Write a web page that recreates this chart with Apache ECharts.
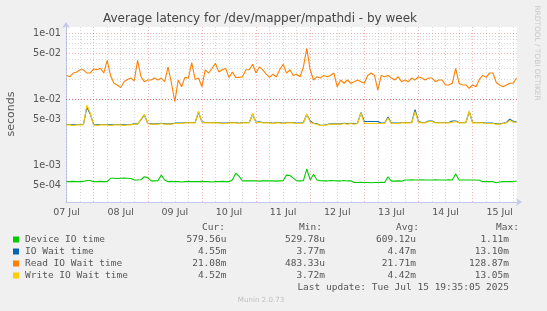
<!DOCTYPE html>
<html><head><meta charset="utf-8">
<script src="https://cdn.jsdelivr.net/npm/echarts@6/dist/echarts.min.js"></script>
<style>html,body{margin:0;padding:0;background:#f0f0f0}#c{width:547px;height:311px}</style>
</head><body><div id="c"></div>
<script>
// time of first sample: days since 07 Jul 00:00; samples every 1.5 h
const T0 = 0.5;
const STEP = 0.0625;
const X_MIN = 0.49, X_MAX = 8.82;
const Y_MIN = 2.78e-4, Y_MAX = 0.1246;

const xLabelPos = [0.5,1.5,2.5,3.5,4.5,5.5,6.5,7.5,8.5];
const xLabels = ['07 Jul','08 Jul','09 Jul','10 Jul','11 Jul','12 Jul','13 Jul','14 Jul','15 Jul'];
const yLabelVals = [5e-4,1e-3,5e-3,1e-2,5e-2,1e-1];
const yLabels = ['5e-04','1e-03','5e-03','1e-02','5e-02','1e-01'];

// Device IO time (microseconds)
const deviceIoUs = [565,565,570,565,565,570,590,590,565,565,570,565,565,
 635,635,630,635,640,635,630,600,600,605,670,650,580,580,585,710,600,
 565,570,565,565,560,565,570,565,565,565,570,565,565,560,565,565,570,565,565,
 600,760,680,
 580,580,585,580,580,575,580,585,580,580,575,580,585,
 710,700,640,580,580,585,880,600,730,600,
 585,580,580,590,585,580,580,590,580,585,
 550,550,555,550,550,545,550,550,555,550,
 670,575,575,580,575,
 600,600,605,600,600,605,600,600,600,605,600,600,600,605,600,
 740,600,600,600,600,600,600,595,
 565,565,565,565,545,560,565,565,565,565,580];
// IO Wait time (milliseconds)
const ioWaitMs = [4.15,4.15,4.1,4.15,4.15,4.15,7.6,6.0,4.15,4.1,
 4.15,4.15,4.15,4.1,4.15,4.15,4.15,4.1,4.15,4.15,
 4.25,4.25,4.9,5.8,4.35,4.25,4.25,4.25,4.35,4.25,
 4.25,4.25,4.35,4.35,4.35,4.45,4.45,4.45,4.45,
 6.4,4.55,
 4.45,4.45,4.45,4.45,4.45,4.35,4.35,4.45,4.45,4.45,4.35,4.45,4.45,4.45,
 6.0,4.45,
 4.55,4.45,4.45,4.45,4.35,4.45,4.45,4.35,4.45,4.45,4.45,4.35,4.35,4.45,
 5.9,4.7,4.35,4.25,4.05,4.05,4.15,4.25,4.25,
 4.25,4.25,4.35,4.25,4.35,4.25,4.35,
 6.3,4.6,
 4.6,4.6,4.6,4.6,4.35,4.35,
 5.4,4.35,
 4.35,4.35,4.45,4.45,4.45,4.45,
 7.0,4.6,4.45,4.45,4.7,4.7,4.45,
 4.45,4.45,4.45,4.45,4.7,
 4.7,4.45,4.45,4.45,6.5,4.45,
 4.45,4.45,4.45,4.35,4.35,4.35,4.25,4.25,4.35,4.45,
 5.0,4.6,4.55];
// Read IO Wait time (milliseconds)
const readWaitMs = [23,22,25,26,28,28,25,25,29,28,
 29.5,25,39,23,17.5,16.5,15,18.5,20,21,
 19,39,22,18.5,19.6,19.6,21,19.6,21,18.5,
 31,17.5,9.2,19.6,15.5,21.5,21,36,20,21,
 15.5,28,25,29.5,35,26,28,29.5,21.5,26,
 21.5,21.5,22,28,28,34,25,31,28,24,
 21.5,24,22,28,34,25,28,23,24,22,
 31,59,28,19.6,22,21,23,22,23,25,
 15.5,19.6,17.5,19.6,17.5,18.5,19.6,18.5,17.5,23,
 25,23,13.8,23,22,23,21,19.6,22,18.5,
 19.6,18.5,21,19.6,22,21,19.6,21,21,18.5,
 19.6,19.6,16.5,16.5,17.5,29.5,17.5,16.5,16.5,14.7,
 16.5,15.5,20,23,21.5,25,25,18,16.5,15.5,
 16.5,17.5,17.5,21];
// Write IO Wait time (milliseconds)
const writeWaitMs = [4.1,4.1,4.0,4.1,4.1,4.1,8.2,6.2,4.1,4.0,
 4.1,4.1,4.1,4.0,4.1,4.1,4.1,4.0,4.1,4.1,
 4.2,4.2,5.0,5.9,4.3,4.2,4.2,4.2,4.3,4.2,
 4.2,4.2,4.3,4.3,4.3,4.4,4.4,4.4,4.4,
 6.6,4.5,
 4.4,4.4,4.4,4.4,4.4,4.3,4.3,4.4,4.4,4.4,4.3,4.4,4.4,4.4,
 6.1,4.4,
 4.5,4.4,4.4,4.4,4.3,4.4,4.4,4.3,4.4,4.4,4.4,4.3,4.3,4.4,
 6.0,4.5,4.3,4.2,4.0,4.0,4.1,4.2,4.2,
 4.2,4.2,4.3,4.2,4.3,4.2,4.3,
 6.2,4.3,
 4.3,4.3,4.3,4.3,4.3,4.3,
 5.2,4.3,
 4.3,4.3,4.4,4.4,4.4,4.4,
 6.5,4.5,4.4,4.4,4.6,4.6,4.4,
 4.4,4.4,4.4,4.4,4.5,
 4.6,4.4,4.4,4.4,6.7,4.4,
 4.4,4.4,4.4,4.3,4.3,4.3,4.2,4.2,4.3,4.4,
 4.8,4.5,4.5];

const legendNames = ['Device IO time','IO Wait time','Read IO Wait time','Write IO Wait time'];
const legendColors = ['#00cc00','#0066b3','#ff8000','#ffcc00'];
const legendCur = ['579.56u','4.55m','21.08m','4.52m'];
const legendMin = ['529.78u','3.77m','483.33u','3.72m'];
const legendAvg = ['609.12u','4.47m','21.71m','4.42m'];
const legendMax = ['1.11m','13.10m','128.87m','13.05m'];

const toPairs = (arr, scale) => arr.map((v, i) => [T0 + i * STEP, v * scale]);

// grid lines
const gridMarks = [];
const minorStyle = {color: 'rgba(150,150,150,0.38)', type: [1, 2], width: 1};
const majorStyle = {color: 'rgba(235,90,90,0.45)', type: [1, 2], width: 1};
[1e-4, 1e-3, 1e-2, 1e-1].forEach(d => {
  [2,3,4,6,7,8,9].forEach(m => {
    const v = m * d;
    if (v > Y_MIN && v < Y_MAX) gridMarks.push({yAxis: v, lineStyle: minorStyle});
  });
});
yLabelVals.forEach(v => gridMarks.push({yAxis: v, lineStyle: majorStyle}));
for (let q = 2; q <= 35; q++) {
  const t = q * 0.25;
  gridMarks.push({xAxis: t, lineStyle: (q % 4 === 0) ? majorStyle : minorStyle});
}

const chart = echarts.init(document.getElementById('c'), null, {renderer: 'canvas'});
const txt = '#555';
const mono = '"DejaVu Sans Mono"';
const graphics = [
  {type: 'text', x: 260, y: 19, style: {text: 'Average latency for /dev/mapper/mpathdi - by week', font: '12px "DejaVu Sans"', fill: '#444', align: 'center', verticalAlign: 'middle'}},
  {type: 'text', x: 11, y: 114, rotation: Math.PI / 2, style: {text: 'seconds', font: '11px "DejaVu Sans"', fill: txt, align: 'center', verticalAlign: 'middle'}},
  {type: 'text', x: 537, y: 53, rotation: -Math.PI / 2, style: {text: 'RRDTOOL / TOBI OETIKER', font: '7.4px "DejaVu Sans"', fill: '#c8c8c8', align: 'center', verticalAlign: 'middle'}},
  {type: 'text', x: 261, y: 300, style: {text: 'Munin 2.0.73', font: '7.1px "DejaVu Sans"', fill: '#c0c0c0', align: 'center', verticalAlign: 'middle'}},
  {type: 'text', x: 509, y: 287.5, style: {text: 'Last update: Tue Jul 15 19:35:05 2025', font: '9.5px ' + mono, fill: txt, align: 'right', verticalAlign: 'middle'}}
];
const headers = [['Cur:', 225], ['Min:', 322], ['Avg:', 419], ['Max:', 519]];
headers.forEach(h => graphics.push({type: 'text', x: h[1], y: 227.7, style: {text: h[0], font: '9.5px ' + mono, fill: txt, align: 'right', verticalAlign: 'middle'}}));
const colsX = [226.5, 325, 416, 509];
legendNames.forEach((n, i) => {
  const y = 239.5 + i * 12;
  graphics.push({type: 'rect', shape: {x: 13, y: y - 3, width: 6, height: 6}, style: {fill: legendColors[i]}});
  graphics.push({type: 'text', x: 25, y: y, style: {text: n, font: '9.5px ' + mono, fill: txt, align: 'left', verticalAlign: 'middle'}});
  [legendCur, legendMin, legendAvg, legendMax].forEach((col, j) => {
    graphics.push({type: 'text', x: colsX[j], y: y, style: {text: col[i], font: '9.5px ' + mono, fill: txt, align: 'right', verticalAlign: 'middle'}});
  });
});

const axisLineStyle = {color: '#c4c8ec', width: 1};
chart.setOption({
  animation: false,
  backgroundColor: '#f0f0f0',
  grid: {left: 66, right: 30, top: 27, bottom: 109, show: true, backgroundColor: '#ffffff', borderWidth: 0},
  xAxis: {
    type: 'value', min: X_MIN, max: X_MAX,
    axisLine: {show: true, lineStyle: axisLineStyle, symbol: ['none', 'arrow'], symbolSize: [6, 6], symbolOffset: [0, 5]},
    axisTick: {show: false},
    splitLine: {show: false},
    axisLabel: {
      customValues: xLabelPos, margin: 6, color: txt, fontFamily: 'DejaVu Sans', fontSize: 9.5,
      formatter: v => { const i = xLabelPos.findIndex(p => Math.abs(p - v) < 1e-6); return i >= 0 ? xLabels[i] : ''; }
    }
  },
  yAxis: {
    type: 'log', logBase: 10, min: Y_MIN, max: Y_MAX,
    axisLine: {show: true, lineStyle: axisLineStyle, symbol: ['none', 'arrow'], symbolSize: [6, 6], symbolOffset: [0, 5]},
    axisTick: {show: false},
    splitLine: {show: false},
    minorSplitLine: {show: false},
    axisLabel: {
      customValues: yLabelVals, margin: 5, color: txt, fontFamily: 'DejaVu Sans', fontSize: 9.7,
      formatter: v => { const i = yLabelVals.findIndex(p => Math.abs(Math.log10(p) - Math.log10(v)) < 1e-4); return i >= 0 ? yLabels[i] : ''; }
    }
  },
  graphic: graphics,
  series: [
    {type: 'line', z: 1, data: [], silent: true, markLine: {silent: true, symbol: 'none', animation: false, label: {show: false}, data: gridMarks}},
    {name: legendNames[0], type: 'line', z: 2, showSymbol: false, symbol: 'none', data: toPairs(deviceIoUs, 1e-6), lineStyle: {color: legendColors[0], width: 1.1}},
    {name: legendNames[1], type: 'line', z: 2, showSymbol: false, symbol: 'none', data: toPairs(ioWaitMs, 1e-3), lineStyle: {color: legendColors[1], width: 1.1}},
    {name: legendNames[2], type: 'line', z: 2, showSymbol: false, symbol: 'none', data: toPairs(readWaitMs, 1e-3), lineStyle: {color: legendColors[2], width: 1.1}},
    {name: legendNames[3], type: 'line', z: 2, showSymbol: false, symbol: 'none', data: toPairs(writeWaitMs, 1e-3), lineStyle: {color: legendColors[3], width: 1.1}}
  ]
});
</script>
</body></html>
